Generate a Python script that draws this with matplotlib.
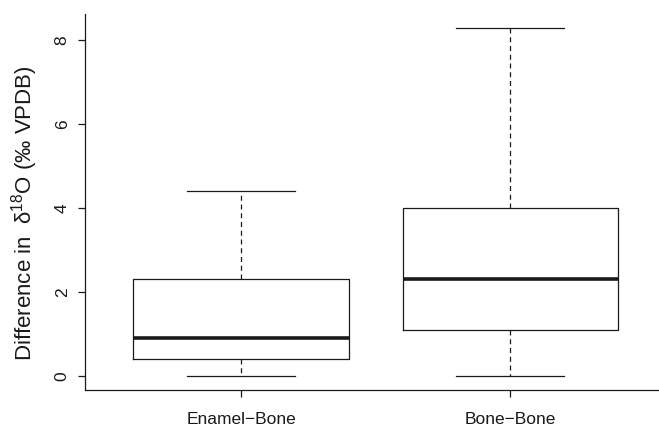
import matplotlib
matplotlib.use("Agg")
import matplotlib.pyplot as plt

plt.rcParams["font.family"] = ["Liberation Sans", "DejaVu Sans"]
plt.rcParams["mathtext.fontset"] = "custom"
plt.rcParams["mathtext.rm"] = "Liberation Sans"
plt.rcParams["mathtext.it"] = "Liberation Sans"

# five-number summaries for each comparison group
groups = ["Enamel\u2212Bone", "Bone\u2212Bone"]
whisker_lo = [0.0, 0.0]
q1 = [0.4, 1.1]
median = [0.9, 2.3]
q3 = [2.3, 4.0]
whisker_hi = [4.4, 8.3]
yticks = [0, 2, 4, 6, 8]

stats = []
for i, g in enumerate(groups):
    stats.append({
        "label": g,
        "whislo": whisker_lo[i],
        "q1": q1[i],
        "med": median[i],
        "q3": q3[i],
        "whishi": whisker_hi[i],
        "fliers": [],
    })

fig = plt.figure(figsize=(6.59, 4.28), dpi=100)
ax = fig.add_axes([0.129, 0.089, 0.882, 0.879])

ink = "#1a1a1a"
ax.bxp(
    stats,
    positions=[1, 2],
    widths=0.8,
    capwidths=0.4,
    showfliers=False,
    boxprops=dict(color=ink, linewidth=0.9),
    whiskerprops=dict(color=ink, linewidth=0.9, linestyle=(0, (4, 3))),
    capprops=dict(color=ink, linewidth=0.9),
    medianprops=dict(color=ink, linewidth=2.6, solid_capstyle="butt"),
)

ax.set_xlim(0.42, 2.58)
ax.set_ylim(-0.332, 8.632)
ax.set_yticks(yticks)
ax.set_yticklabels([str(t) for t in yticks], rotation=90, va="center")
ax.set_xticks([1, 2])
ax.set_xticklabels(groups)

for side in ("top", "right"):
    ax.spines[side].set_visible(False)
for side in ("left", "bottom"):
    ax.spines[side].set_color(ink)
    ax.spines[side].set_linewidth(0.9)

ax.tick_params(axis="both", colors=ink, length=5, width=0.9, labelsize=12.5)
ax.tick_params(axis="y", pad=6)
ax.tick_params(axis="x", pad=11)

ax.set_ylabel("Difference in  \u03b4$^{18}$O (\u2030 VPDB)", fontsize=16, color=ink)
ax.yaxis.set_label_coords(-0.078, 0.47)

fig.savefig("out.png", dpi=100)
